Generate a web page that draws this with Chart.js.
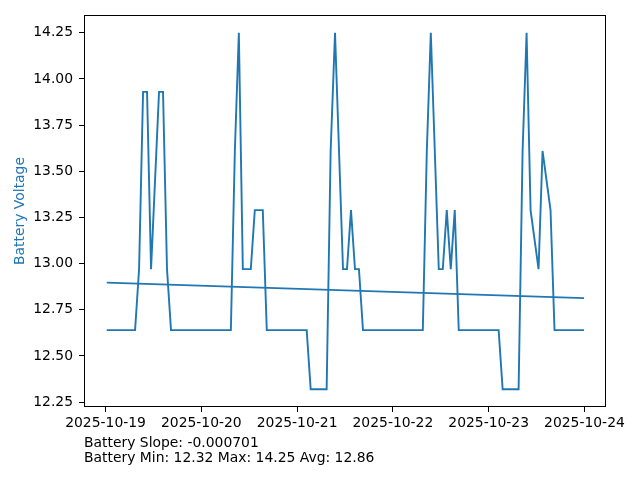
<!DOCTYPE html>
<html>
<head>
<meta charset="utf-8">
<script src="https://cdn.jsdelivr.net/npm/chart.js@4.4.1/dist/chart.umd.min.js"></script>
<style>
  body { margin: 0; background: #fff; }
  #wrap { position: relative; width: 640px; height: 480px; }
  .note { position: absolute; left: 84px; font: 13.9px/16px "DejaVu Sans", sans-serif; color: #000; white-space: pre; }
</style>
</head>
<body>
<div id="wrap">
  <canvas id="batChart" width="640" height="480"></canvas>
  <div class="note" style="top:434px">Battery Slope: -0.000701</div>
  <div class="note" style="top:449px">Battery Min: 12.32 Max: 14.25 Avg: 12.86</div>
</div>
<script>
// horas desde 2025-10-19 00:00
const hours = [0.3, 7.4, 8.4, 9.4, 10.4, 11.4, 13.4, 14.4, 15.4, 16.4,
  31.4, 32.4, 33.4, 34.4, 36.4, 37.4, 39.4, 40.4, 50.4, 51.4,
  55.4, 56.4, 57.5, 59.5, 60.5, 61.5, 62.5, 63.5, 64.5, 79.5,
  80.5, 81.5, 83.5, 84.5, 85.5, 86.5, 87.5, 88.5, 98.5, 99.5,
  103.5, 104.5, 105.5, 106.5, 108.5, 109.5, 111.5, 112.5, 119.9];
const voltage = [12.64, 12.64, 12.97, 13.93, 13.93, 12.97, 13.93, 13.93, 12.97, 12.64,
  12.64, 13.61, 14.25, 12.97, 12.97, 13.29, 13.29, 12.64, 12.64, 12.32,
  12.32, 13.61, 14.25, 12.97, 12.97, 13.29, 12.97, 12.97, 12.64, 12.64,
  13.61, 14.25, 12.97, 12.97, 13.29, 12.97, 13.29, 12.64, 12.64, 12.32,
  12.32, 13.61, 14.25, 13.29, 12.97, 13.61, 13.29, 12.64, 12.64];

// linea de tendencia (inicio y fin)
const trendHours = [0.3, 119.9];
const trendVoltage = [12.897, 12.813];

const xTickHours = [0, 24, 48, 72, 96, 120];
const xTickLabels = ["2025-10-19", "2025-10-20", "2025-10-21", "2025-10-22", "2025-10-23", "2025-10-24"];
const yTicks = [12.25, 12.5, 12.75, 13.0, 13.25, 13.5, 13.75, 14.0, 14.25];

const blue = "#1f77b4";
const font = { family: "'DejaVu Sans', sans-serif", size: 13.9 };

// marco completo del area de datos
const boxPlugin = {
  id: "box",
  afterDraw(chart) {
    const a = chart.chartArea;
    const ctx = chart.ctx;
    ctx.save();
    ctx.strokeStyle = "#000";
    ctx.lineWidth = 1;
    ctx.strokeRect(Math.round(a.left) + 0.5, Math.round(a.top) + 0.5,
      Math.round(a.right - a.left) - 1, Math.round(a.bottom - a.top) - 1);
    ctx.restore();
  },
};

const ctx = document.getElementById("batChart").getContext("2d");
new Chart(ctx, {
  type: "line",
  data: {
    datasets: [
      {
        label: "Battery Voltage",
        data: hours.map((h, i) => ({ x: h, y: voltage[i] })),
        borderColor: blue,
        borderWidth: 1.9,
        pointRadius: 0,
        tension: 0,
        fill: false,
      },
      {
        label: "Trend",
        data: trendHours.map((h, i) => ({ x: h, y: trendVoltage[i] })),
        borderColor: blue,
        borderWidth: 1.9,
        pointRadius: 0,
        fill: false,
      },
    ],
  },
  options: {
    responsive: false,
    animation: false,
    layout: { padding: { left: 0, right: 34, top: 15, bottom: 0 } },
    plugins: { legend: { display: false }, tooltip: { enabled: false } },
    scales: {
      x: {
        type: "linear",
        min: -5.4,
        max: 125.4,
        afterBuildTicks: (axis) => { axis.ticks = xTickHours.map((v) => ({ value: v })); },
        afterFit: (axis) => { axis.height = 73; },
        ticks: {
          autoSkip: false,
          maxRotation: 0,
          color: "#000",
          font: font,
          padding: 3,
          callback: (v) => xTickLabels[xTickHours.indexOf(v)],
        },
        grid: { drawOnChartArea: false, tickLength: 5, color: "#000" },
        border: { display: false },
      },
      y: {
        min: 12.2235,
        max: 14.3465,
        afterBuildTicks: (axis) => { axis.ticks = yTicks.map((v) => ({ value: v })); },
        afterFit: (axis) => { axis.width = 84; },
        ticks: {
          color: "#000",
          font: font,
          padding: 6,
          callback: (v) => v.toFixed(2),
        },
        title: {
          display: true,
          text: "Battery Voltage",
          color: blue,
          font: font,
          padding: { top: 12.5, bottom: 0 },
        },
        grid: { drawOnChartArea: false, tickLength: 5, color: "#000" },
        border: { display: false },
      },
    },
  },
  plugins: [boxPlugin],
});
</script>
</body>
</html>
